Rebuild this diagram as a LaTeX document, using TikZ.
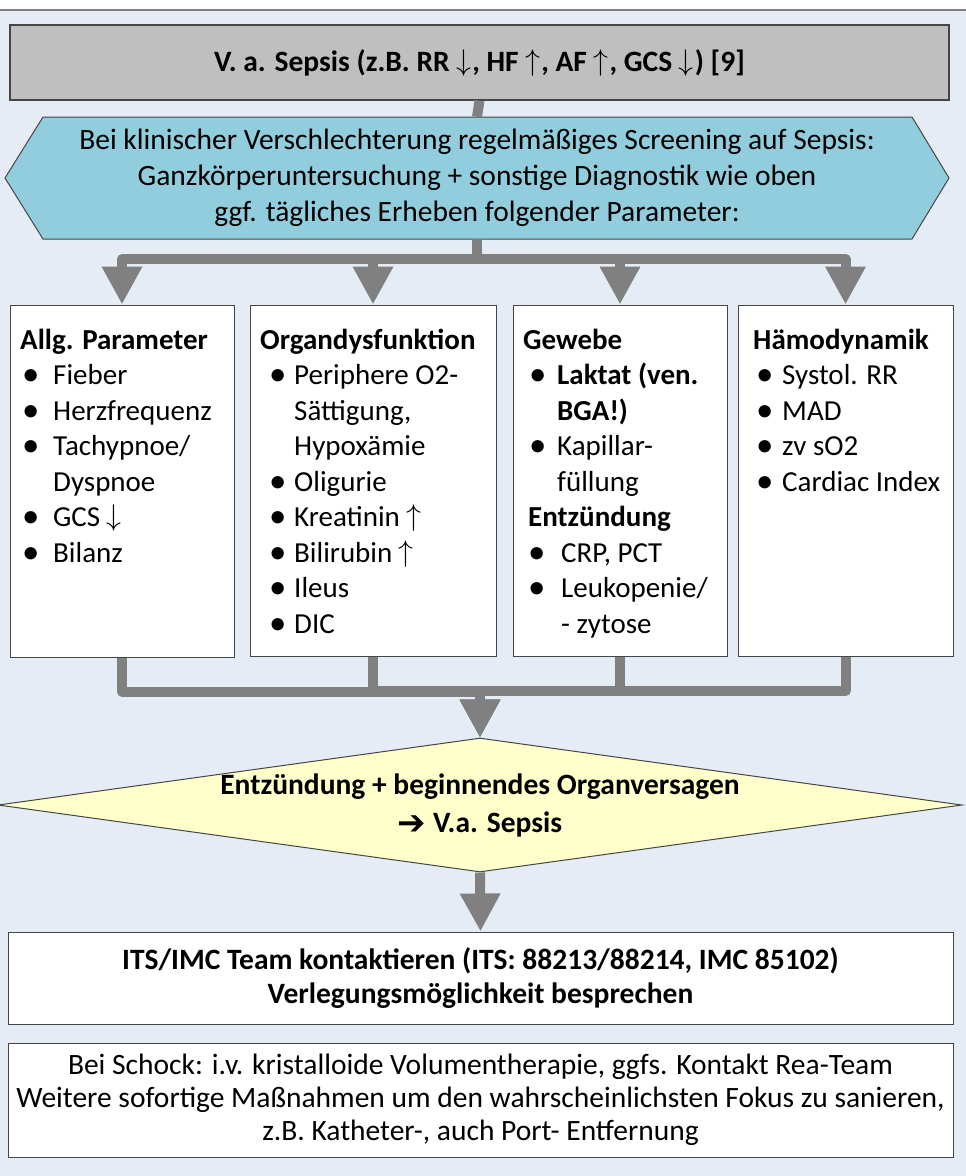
\documentclass[tikz,border=0pt]{standalone}
\usepackage{fontspec}
\setmainfont{Carlito}
\newfontfamily\arrowfont{DejaVu Sans}
\usetikzlibrary{arrows.meta,shapes.geometric}

\definecolor{bgblue}{RGB}{230,236,246}
\definecolor{hexblue}{RGB}{146,205,221}
\definecolor{topgray}{RGB}{191,191,191}
\definecolor{diayellow}{RGB}{255,255,204}
\definecolor{linegray}{RGB}{128,128,128}
\definecolor{edgegray}{RGB}{70,70,70}

\newcommand{\up}{\smash{\raisebox{1pt}{\scalebox{1.2}{$\uparrow$}}}\kern1pt}
\newcommand{\dn}{\smash{\raisebox{1pt}{\scalebox{1.2}{$\downarrow$}}}\kern1pt}
\newcommand{\ra}{\raisebox{-2pt}{\arrowfont\bfseries\fontsize{34}{0}\selectfont ➔}}
\newcommand{\itm}[2]{\hspace*{#1}\makebox[#2][l]{\raisebox{-1pt}{\scalebox{1.2}{\textbullet}}}}

\tikzset{
  box/.style={draw=edgegray, line width=1pt, fill=white, inner sep=0pt},
  conn/.style={draw=linegray, line width=10pt, line join=round},
  arr/.style={conn, -{Triangle[length=38pt,width=38pt]}},
  list/.style={anchor=north west, align=left, inner sep=0pt},
}

\begin{document}
\begin{tikzpicture}[x=1pt, y=-1pt, font=\fontsize{29}{35.5}\selectfont]
  \useasboundingbox (0,0) rectangle (966,1176);
  \fill[bgblue] (0,11) rectangle (966,1176);
  \draw[gray, line width=2pt] (0,10) -- (966,10);

  % Kopf
  \node[box, fill=topgray, line width=1.5pt, minimum width=939pt, minimum height=75pt,
        font=\fontsize{29.5}{35.5}\selectfont\bfseries] (top) at (479.5,62.5)
        {V. a. Sepsis (z.B. RR \dn, HF \up, AF \up, GCS \dn) [9]};

  \filldraw[fill=hexblue, draw=edgegray, line width=1pt]
    (5,178) -- (43,117) -- (912,117) -- (949,178) -- (912,239) -- (43,239) -- cycle;
  \node[inner sep=0pt, minimum width=944pt, minimum height=122pt, align=center,
        font=\fontsize{29.5}{36}\selectfont] (hex) at (477,178)
        {Bei klinischer Verschlechterung regelmäßiges Screening auf Sepsis:\\
         Ganzkörperuntersuchung + sonstige Diagnostik wie oben\\
         ggf. tägliches Erheben folgender Parameter:};

  % Parameter
  \node[box, minimum width=224pt, minimum height=352pt] (b1) at (122,481) {};
  \node[box, minimum width=246pt, minimum height=351pt] (b2) at (373,480.5) {};
  \node[box, minimum width=214pt, minimum height=351pt] (b3) at (620,480.5) {};
  \node[box, minimum width=215pt, minimum height=351pt] (b4) at (845.5,480.5) {};

  \node[list] (l1) at (20,324) {\strut\textbf{Allg. Parameter}\\
    \itm{2pt}{31pt}Fieber\\
    \itm{2pt}{31pt}Herzfrequenz\\
    \itm{2pt}{31pt}Tachypnoe/\\
    \hspace*{33pt}Dyspnoe\\
    \itm{2pt}{31pt}GCS \dn\\
    \itm{2pt}{31pt}Bilanz};
  \node[list] (l2) at (260,324) {\strut\textbf{Organdysfunktion}\\
    \itm{9pt}{25pt}Periphere O2-\\
    \hspace*{34pt}Sättigung,\\
    \hspace*{34pt}Hypoxämie\\
    \itm{9pt}{25pt}Oligurie\\
    \itm{9pt}{25pt}Kreatinin \up\\
    \itm{9pt}{25pt}Bilirubin \up\\
    \itm{9pt}{25pt}Ileus\\
    \itm{9pt}{25pt}DIC};
  \node[list] (l3) at (523,324) {\strut\textbf{Gewebe}\\
    \itm{6pt}{28pt}\textbf{Laktat (ven.}\\
    \hspace*{34pt}\textbf{BGA!)}\\
    \itm{6pt}{28pt}Kapillar-\\
    \hspace*{34pt}füllung\\
    \hspace*{5pt}\textbf{Entzündung}\\
    \itm{5pt}{33pt}CRP, PCT\\
    \itm{5pt}{33pt}Leukopenie/\\
    \hspace*{38pt}- zytose};
  \node[list] (l4) at (753,324) {\strut\textbf{Hämodynamik}\\
    \itm{3pt}{26pt}Systol. RR\\
    \itm{3pt}{26pt}MAD\\
    \itm{3pt}{26pt}zv sO2\\
    \itm{3pt}{26pt}Cardiac Index};

  % Bewertung
  \node[draw=edgegray, fill=diayellow, line width=1pt, diamond, aspect=7.2, inner sep=0pt,
        minimum width=964pt, minimum height=134pt] (dia) at (480,805) {};
  \node[align=center, font=\fontsize{29.5}{38}\selectfont\bfseries] (diatext) at (dia.center)
        {Entzündung + beginnendes Organversagen\\ \ra\ V.a. Sepsis};

  \node[box, minimum width=945pt, minimum height=92pt, align=center,
        font=\fontsize{29.5}{34}\selectfont\bfseries] (its) at (480.5,978)
        {ITS/IMC Team kontaktieren (ITS: 88213/88214, IMC 85102)\\
         Verlegungsmöglichkeit besprechen};
  \node[box, minimum width=945pt, minimum height=114pt, align=center,
        font=\fontsize{29.5}{33}\selectfont] (last) at (480.5,1100)
        {Bei Schock: i.v. kristalloide Volumentherapie, ggfs. Kontakt Rea-Team\\
         Weitere sofortige Maßnahmen um den wahrscheinlichsten Fokus zu sanieren,\\
         z.B. Katheter-, auch Port- Entfernung};

  % Verbindungen
  \draw[conn] (top.south) -- (hex.north);
  \foreach \b in {b1,b2,b3,b4}
    \draw[arr] (hex.south) -- ++(0,20) -| (\b.north);
  \foreach \b in {b1,b2,b3,b4}
    \draw[arr] (\b.south) -- ++(0,34) -| (dia.north);
  \draw[arr] (dia.south) -- (its.north);
\end{tikzpicture}
\end{document}
